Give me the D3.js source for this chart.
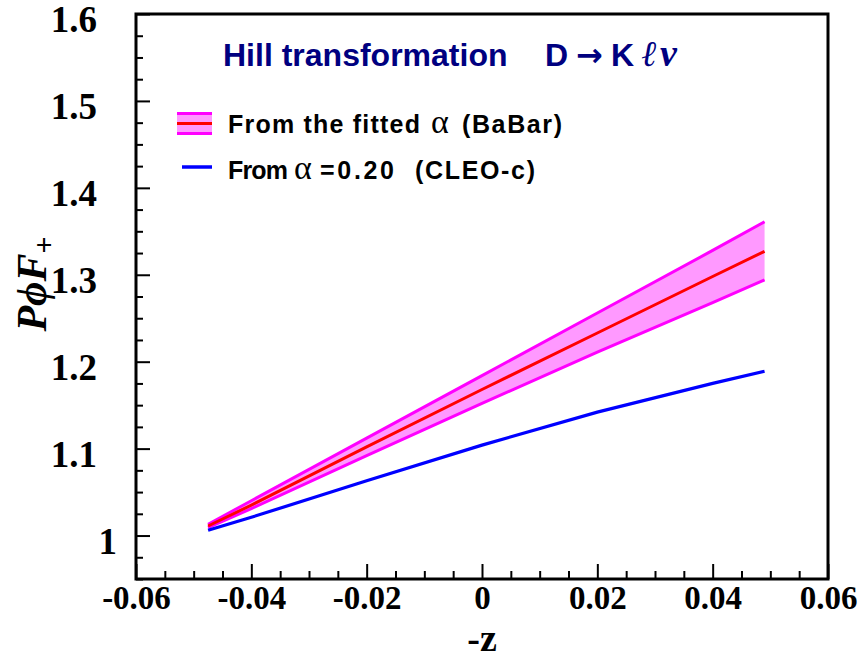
<!DOCTYPE html>
<html>
<head>
<meta charset="utf-8">
<script src="https://cdn.jsdelivr.net/npm/d3@7"></script>
<style>
  html, body { margin: 0; padding: 0; background: #ffffff; }
  svg { display: block; }
</style>
</head>
<body>
<svg id="chart" width="861" height="659"></svg>
<script>
// -z sample points along the curves
const zValues = [-0.0475, -0.04, -0.02, 0.0, 0.02, 0.04, 0.049];
// P·phi·F+ from the fitted alpha (BaBar): central value and error band
const fitCentral = [1.011, 1.035, 1.102, 1.168, 1.233, 1.298, 1.327];
const fitUpper   = [1.013, 1.040, 1.112, 1.184, 1.256, 1.328, 1.361];
const fitLower   = [1.009, 1.031, 1.092, 1.152, 1.211, 1.268, 1.294];
// P·phi·F+ from alpha = 0.20 (CLEO-c)
const cleoValues = [1.006, 1.021, 1.063, 1.104, 1.142, 1.175, 1.189];

// axis ticks
const xTicks = [-0.06, -0.04, -0.02, 0, 0.02, 0.04, 0.06];
const xTickLabels = ["-0.06", "-0.04", "-0.02", "0", "0.02", "0.04", "0.06"];
const yTicks = [1.0, 1.1, 1.2, 1.3, 1.4, 1.5, 1.6];
const yTickLabels = ["1", "1.1", "1.2", "1.3", "1.4", "1.5", "1.6"];

const svg = d3.select("#chart");
const plotLeft = 136, plotRight = 828, plotTop = 14, plotBottom = 579;

const x = d3.scaleLinear().domain([-0.06, 0.06]).range([plotLeft, plotRight]);
const y = d3.scaleLinear().domain([0.95, 1.6]).range([plotBottom, plotTop]);

const serif = "'Liberation Serif', 'Times New Roman', serif";
const sans = "'Liberation Sans', Arial, sans-serif";

// error band
const band = zValues.map((z, i) => ({ z, lo: fitLower[i], hi: fitUpper[i], c: fitCentral[i], b: cleoValues[i] }));
svg.append("path")
  .datum(band)
  .attr("fill", "#ff99ff")
  .attr("d", d3.area().x(d => x(d.z)).y0(d => y(d.lo)).y1(d => y(d.hi)));

const line = key => d3.line().x(d => x(d.z)).y(d => y(d[key]));
svg.append("path").datum(band).attr("fill", "none").attr("stroke", "#ff00ff")
  .attr("stroke-width", 3).attr("d", line("hi"));
svg.append("path").datum(band).attr("fill", "none").attr("stroke", "#ff00ff")
  .attr("stroke-width", 3).attr("d", line("lo"));
svg.append("path").datum(band).attr("fill", "none").attr("stroke", "#ff0000")
  .attr("stroke-width", 3).attr("d", line("c"));
svg.append("path").datum(band).attr("fill", "none").attr("stroke", "#0000ff")
  .attr("stroke-width", 3.2).attr("d", line("b"));

// axes: ticks point inward, major + minor
const xMinor = d3.range(-0.06, 0.0601, 0.005).filter(v => Math.abs(Math.round(v / 0.02) * 0.02 - v) > 1e-6);
const yMinor = d3.range(0.95, 1.6001, 0.025).filter(v => Math.abs(Math.round(v / 0.1) * 0.1 - v) > 1e-6);

const xAxisMajor = d3.axisBottom(x).tickValues(xTicks).tickSize(-15)
  .tickFormat((d, i) => xTickLabels[i]).tickPadding(7);
const xg = svg.append("g").attr("transform", `translate(0,${plotBottom})`).call(xAxisMajor);
xg.select(".domain").remove();
xg.selectAll("line").attr("stroke", "#000").attr("stroke-width", 2);
xg.selectAll("text").attr("font-family", serif).attr("font-weight", "bold")
  .attr("font-size", 33).attr("fill", "#000");

const xm = svg.append("g").attr("transform", `translate(0,${plotBottom})`)
  .call(d3.axisBottom(x).tickValues(xMinor).tickSize(-8).tickFormat(""));
xm.select(".domain").remove();
xm.selectAll("line").attr("stroke", "#000").attr("stroke-width", 2);

const yAxisMajor = d3.axisLeft(y).tickValues(yTicks).tickSize(-14)
  .tickFormat((d, i) => yTickLabels[i]).tickPadding(39);
const yg = svg.append("g").attr("transform", `translate(${plotLeft},0)`).call(yAxisMajor);
yg.select(".domain").remove();
yg.selectAll("line").attr("stroke", "#000").attr("stroke-width", 2);
yg.selectAll("text").attr("font-family", serif).attr("font-weight", "bold")
  .attr("font-size", 37).attr("fill", "#000").attr("dy", "0.48em")
  .attr("x", (d, i) => yTickLabels[i].length === 1 ? -19 : -39);

const ym = svg.append("g").attr("transform", `translate(${plotLeft},0)`)
  .call(d3.axisLeft(y).tickValues(yMinor).tickSize(-7).tickFormat(""));
ym.select(".domain").remove();
ym.selectAll("line").attr("stroke", "#000").attr("stroke-width", 2);

// frame
svg.append("rect").attr("x", plotLeft).attr("y", plotTop)
  .attr("width", plotRight - plotLeft).attr("height", plotBottom - plotTop)
  .attr("fill", "none").attr("stroke", "#000").attr("stroke-width", 3);

// axis titles
svg.append("text").attr("x", x(0)).attr("y", 651).attr("text-anchor", "middle")
  .attr("font-family", serif).attr("font-weight", "bold").attr("font-size", 38)
  .attr("fill", "#000").text("-z");

const yLab = svg.append("text")
  .attr("transform", "translate(46,284) rotate(-90)")
  .attr("text-anchor", "middle")
  .attr("font-family", serif).attr("font-style", "italic").attr("font-weight", "bold")
  .attr("font-size", 42).attr("fill", "#000");
yLab.append("tspan").text("P");
yLab.append("tspan").text("ϕ");
yLab.append("tspan").text("F");
yLab.append("tspan").attr("font-style", "normal").attr("font-size", 30).attr("dy", 8).text("+");

// title
const navy = "#000080";
svg.append("text").attr("x", 223).attr("y", 66)
  .attr("font-family", sans).attr("font-weight", "bold").attr("font-size", 32)
  .attr("fill", navy).text("Hill transformation");
const t2 = svg.append("text").attr("x", 545).attr("y", 66)
  .attr("font-family", sans).attr("font-weight", "bold").attr("font-size", 32)
  .attr("fill", navy);
t2.append("tspan").text("D");
t2.append("tspan").attr("font-family", "'DejaVu Sans', sans-serif").attr("dx", 8).text("→");
t2.append("tspan").attr("dx", 8).text("K");
t2.append("tspan").attr("font-family", serif).attr("font-style", "italic")
  .attr("font-weight", "normal").attr("font-size", 36).attr("dx", 7).text("ℓ");
t2.append("tspan").attr("font-family", serif).attr("font-style", "italic")
  .attr("font-size", 38).attr("dx", 4).text("ν");

// legend
const leg = svg.append("g");
leg.append("rect").attr("x", 177).attr("y", 112).attr("width", 35).attr("height", 23).attr("fill", "#ff99ff");
[113.5, 133.5].forEach(yy => leg.append("line").attr("x1", 177).attr("x2", 212)
  .attr("y1", yy).attr("y2", yy).attr("stroke", "#ff00ff").attr("stroke-width", 3));
leg.append("line").attr("x1", 177).attr("x2", 212).attr("y1", 123.5).attr("y2", 123.5)
  .attr("stroke", "#ff0000").attr("stroke-width", 3);
leg.append("line").attr("x1", 182).attr("x2", 212).attr("y1", 167).attr("y2", 167)
  .attr("stroke", "#0000ff").attr("stroke-width", 3.5);

// legend text pieces: [text, x start, width, is alpha]
const legendRows = [
  { y: 133, parts: [["From the fitted", 228, 192, false], ["α", 431, 0, true], ["(BaBar)", 462, 100, false]] },
  { y: 179, parts: [["From", 228, 60, false], ["α", 294, 0, true], ["=0.20", 320, 74, false], ["(CLEO-c)", 415, 120, false]] }
];
legendRows.forEach(row => {
  row.parts.forEach(([txt, px, w, isAlpha]) => {
    const t = leg.append("text").attr("x", px).attr("y", row.y).attr("fill", "#000").text(txt);
    if (isAlpha) {
      t.attr("font-family", serif).attr("font-size", 34);
    } else {
      t.attr("font-family", sans).attr("font-weight", "bold").attr("font-size", 25)
        .attr("textLength", w).attr("lengthAdjust", "spacing");
    }
  });
});
</script>
</body>
</html>
